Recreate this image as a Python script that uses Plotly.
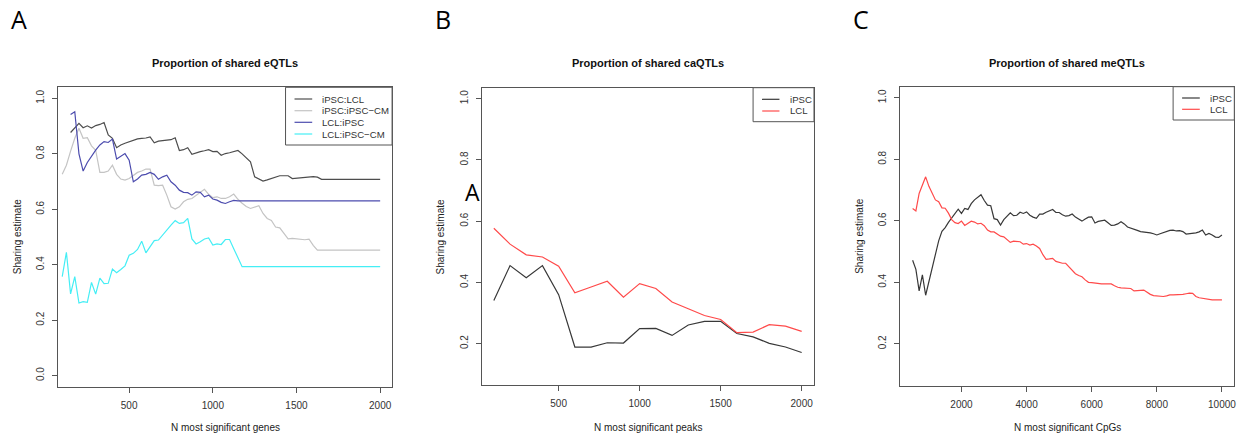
import plotly.graph_objects as go

W, H = 1248, 436
FONT = "Liberation Sans, Arial, Helvetica, sans-serif"
LETTER_FONT = "Open Sans, Noto Sans, sans-serif"

# ---------------- Panel A : eQTLs ----------------
GENES_N = [100, 125, 150, 175, 200, 225, 250, 275, 300, 325,
           350, 375, 400, 425, 450, 475, 500, 525, 550, 575,
           600, 625, 650, 675, 700, 725, 750, 775, 800, 825,
           850, 875, 900, 925, 950, 975, 1000, 1025, 1050, 1075,
           1100, 1125, 1150, 1175, 1200, 1225, 1250, 1275, 1300, 1325,
           1350, 1375, 1400, 1425, 1450, 1475, 1500, 1525, 1550, 1575,
           1600, 1625, 1650, 1675, 1700, 1725, 1750, 1775, 1800, 1825,
           1850, 1875, 1900, 1925, 1950, 1975, 2000]

IPSC_LCL = [None, None, .877, .895, .910, .894, .901, .893, .902, .906,
            .913, .868, .856, .822, .832, .838, .844, .848, .854, .856,
            .857, .861, .840, .846, .847, .848, .851, .858, .812, .815,
            .822, .798, .804, .808, .811, .815, .808, .809, .795, .801,
            .804, .808, .812, .800, .785, .771, .717, .710, .702, .706,
            .711, .716, .721, .721, .721, .711, .712, .715, .716, .717,
            .718, .716, .708, .708, .708, .708, .708, .708, .708, .708,
            .708, .708, .708, .708, .708, .708, .708]

IPSC_IPSCCM = [.726, .759, .810, .856, .892, .856, .858, .829, .813, .733,
               .733, .738, .759, .726, .709, .705, .711, .723, .733, .738,
               .745, .745, .687, .685, .687, .651, .609, .601, .609, .627,
               .636, .639, .651, .661, .672, .654, .642, .645, .639, .639,
               .645, .655, .636, .622, .610, .603, .608, .613, .585, .567,
               .560, .536, .533, .512, .493, .495, .494, .491, .490, .492,
               .470, .453, .453, .453, .453, .453, .453, .453, .453, .453,
               .453, .453, .453, .453, .453, .453, .453]

LCL_IPSC = [None, None, .942, .952, .800, .738, .769, .793, .813, .832,
            .844, .841, .853, .781, .792, .801, .777, .699, .709, .723,
            .726, .733, .726, .708, .717, .723, .699, .687, .669, .661,
            .660, .651, .663, .661, .645, .651, .637, .633, .625, .621,
            .627, .632, .630, .630, .630, .630, .630, .630, .630, .630,
            .630, .630, .630, .630, .630, .630, .630, .630, .630, .630,
            .630, .630, .630, .630, .630, .630, .630, .630, .630, .630,
            .630, .630, .630, .630, .630, .630, .630]

LCL_IPSCCM = [.357, .445, .295, .357, .262, .267, .264, .336, .294, .352,
              .332, .333, .384, .371, .383, .396, .434, .441, .455, .485,
              .443, .465, .487, .489, .507, .529, .543, .559, .549, .552,
              .567, .493, .475, .483, .493, .497, .471, .475, .473, .491,
              .491, .458, .426, .393, .393, .393, .393, .393, .393, .393,
              .393, .393, .393, .393, .393, .393, .393, .393, .393, .393,
              .393, .393, .393, .393, .393, .393, .393, .393, .393, .393,
              .393, .393, .393, .393, .393, .393, .393]

A_NAMES = ["iPSC:LCL", "iPSC:iPSC\u2212CM", "LCL:iPSC", "LCL:iPSC\u2212CM"]
A_COLORS = ["#4d4d4d", "#c4c4c4", "#4c4cae", "#45eef5"]

# ---------------- Panel B : caQTLs ----------------
PEAKS_N = [100, 200, 300, 400, 500, 600, 700, 800, 900, 1000,
           1100, 1200, 1300, 1400, 1500, 1600, 1700, 1800, 1900, 2000]
IPSC_B = [.341, .455, .415, .455, .360, .189, .189, .203, .202, .249,
          .250, .227, .261, .273, .273, .233, .222, .201, .189, .171]
LCL_B = [.577, .525, .490, .483, .453, .366, .385, .404, .352, .396,
         .380, .336, .314, .292, .279, .236, .238, .262, .257, .240]

# ---------------- Panel C : meQTLs ----------------
CPGS_N = [500, 600, 700, 800, 900, 1000, 1100, 1200, 1300, 1400,
          1500, 1600, 1700, 1800, 1900, 2000, 2100, 2200, 2300, 2400,
          2500, 2600, 2700, 2800, 2900, 3000, 3100, 3200, 3300, 3400,
          3500, 3600, 3700, 3800, 3900, 4000, 4100, 4200, 4300, 4400,
          4500, 4600, 4700, 4800, 4900, 5000, 5100, 5200, 5300, 5400,
          5500, 5600, 5700, 5800, 5900, 6000, 6100, 6200, 6300, 6400,
          6500, 6600, 6700, 6800, 6900, 7000, 7100, 7200, 7300, 7400,
          7500, 7600, 7700, 7800, 7900, 8000, 8100, 8200, 8300, 8400,
          8500, 8600, 8700, 8800, 8900, 9000, 9100, 9200, 9300, 9400,
          9500, 9600, 9700, 9800, 9900, 10000]
IPSC_C = [.472, .442, .372, .424, .358, .402, .452, .495, .535, .566,
          .578, .595, .610, .625, .638, .624, .640, .637, .656, .668,
          .678, .685, .666, .651, .649, .607, .604, .586, .604, .616,
          .626, .617, .618, .628, .624, .629, .618, .612, .608, .622,
          .622, .628, .633, .637, .627, .627, .620, .615, .617, .622,
          .612, .605, .599, .606, .612, .613, .593, .598, .601, .602,
          .594, .585, .586, .590, .597, .590, .580, .577, .574, .569,
          .565, .564, .563, .561, .558, .554, .558, .562, .567, .569,
          .570, .567, .568, .565, .557, .558, .559, .561, .564, .570,
          .554, .559, .554, .547, .546, .554]
LCL_C = [.640, .632, .689, .716, .743, .712, .688, .668, .662, .642,
         .641, .625, .604, .594, .591, .599, .585, .592, .599, .596,
         .590, .592, .584, .570, .564, .564, .558, .550, .548, .540,
         .530, .534, .534, .532, .524, .526, .521, .524, .518, .510,
         .490, .475, .476, .478, .468, .464, .462, .462, .450, .440,
         .428, .422, .418, .408, .400, .399, .397, .395, .395, .395,
         .395, .395, .389, .384, .382, .381, .381, .380, .372, .372,
         .374, .375, .368, .361, .357, .356, .355, .354, .356, .359,
         .359, .359, .359, .361, .363, .365, .364, .354, .350, .348,
         .347, .344, .343, .343, .343, .343]

BC_NAMES = ["iPSC", "LCL"]
BC_COLORS = ["#383838", "#ff4a4a"]

TITLES = ["Proportion of shared eQTLs", "Proportion of shared caQTLs",
          "Proportion of shared meQTLs"]
XLABELS = ["N most significant genes", "N most significant peaks",
           "N most significant CpGs"]
YLABEL = "Sharing estimate"
LETTERS = ["A", "B", "C"]

X_TICKS = [[500, 1000, 1500, 2000], [500, 1000, 1500, 2000],
           [2000, 4000, 6000, 8000, 10000]]
Y_TICKS = [[0.0, 0.2, 0.4, 0.6, 0.8, 1.0], [0.2, 0.4, 0.6, 0.8, 1.0],
           [0.2, 0.4, 0.6, 0.8, 1.0]]

# ---------------- layout geometry (pixels) ----------------
BOX = [(58.3, 393.0, 87.3, 386.7), (482.3, 815.3, 87.7, 385.3),
       (901.7, 1236.3, 86.7, 385.7)]
XRANGES = [[76, 2073], [24, 2076], [120, 10380]]
YRANGES = [[-0.04, 1.04], [0.064, 1.036], [0.064, 1.036]]


def px(x):
    return x / W


def py(y):
    return 1 - y / H


fig = go.Figure()

series = [
    (GENES_N, [IPSC_LCL, IPSC_IPSCCM, LCL_IPSC, LCL_IPSCCM], A_NAMES, A_COLORS),
    (PEAKS_N, [IPSC_B, LCL_B], BC_NAMES, BC_COLORS),
    (CPGS_N, [IPSC_C, LCL_C], BC_NAMES, BC_COLORS),
]

for i, (xs, ys_list, names, colors) in enumerate(series):
    sfx = "" if i == 0 else str(i + 1)
    for ys, nm, col in zip(ys_list, names, colors):
        fig.add_trace(go.Scatter(x=xs, y=ys, mode="lines", name=nm,
                                 line=dict(color=col, width=1.2),
                                 xaxis="x" + sfx, yaxis="y" + sfx,
                                 showlegend=False))

axis_common = dict(showgrid=False, zeroline=False, showline=True, mirror=True,
                   linecolor="#555555", linewidth=1, ticks="outside",
                   ticklen=5, tickcolor="#555555", tickwidth=1,
                   tickfont=dict(family=FONT, size=10, color="#333333"))

layout = dict(width=W, height=H, margin=dict(l=0, r=0, t=0, b=0),
              paper_bgcolor="white", plot_bgcolor="white",
              font=dict(family=FONT, color="#222222"))

annotations = []
shapes = []

for i in range(3):
    sfx = "" if i == 0 else str(i + 1)
    x0, x1, y0, y1 = BOX[i]
    layout["xaxis" + sfx] = dict(axis_common, domain=[px(x0), px(x1)],
                                 range=XRANGES[i], tickvals=X_TICKS[i],
                                 ticktext=[str(v) for v in X_TICKS[i]],
                                 anchor="y" + sfx, ticklabelstandoff=4)
    layout["yaxis" + sfx] = dict(axis_common, domain=[py(y1), py(y0)],
                                 range=YRANGES[i], tickvals=Y_TICKS[i],
                                 ticktext=["%.1f" % v for v in Y_TICKS[i]],
                                 tickangle=-90, anchor="x" + sfx,
                                 ticklabelstandoff=4)
    cx = (x0 + x1) / 2
    annotations.append(dict(text="<b>%s</b>" % TITLES[i], x=px(cx), y=py(63),
                            xref="paper", yref="paper", showarrow=False,
                            xanchor="center", yanchor="middle",
                            font=dict(family=FONT, size=11, color="#111111")))
    annotations.append(dict(text=XLABELS[i], x=px(cx), y=py(427.5),
                            xref="paper", yref="paper", showarrow=False,
                            xanchor="center", yanchor="middle",
                            font=dict(family=FONT, size=10, color="#222222")))
    ylab_x = [17.3, 441.7, 861.0][i]
    annotations.append(dict(text=YLABEL, x=px(ylab_x), y=py((y0 + y1) / 2),
                            xref="paper", yref="paper", showarrow=False,
                            textangle=-90, xanchor="center", yanchor="middle",
                            font=dict(family=FONT, size=10, color="#222222")))
    lx, ly = [(19.5, 19.5), (443.5, 19.5), (862.5, 19.5)][i]
    annotations.append(dict(text=LETTERS[i], x=px(lx), y=py(ly),
                            xref="paper", yref="paper", showarrow=False,
                            xanchor="center", yanchor="middle",
                            font=dict(family=LETTER_FONT, size=25, color="black")))

# stray panel letter overlapping panel B
annotations.append(dict(text="A", x=px(472.8), y=py(191.5), xref="paper",
                        yref="paper", showarrow=False, xanchor="center",
                        yanchor="middle",
                        font=dict(family=LETTER_FONT, size=23, color="black")))

# ---------------- legends ----------------
LEGENDS = [
    dict(box=(286.0, 392.7, 87.3, 145.0), line=(295.0, 312.7), tx=321.0,
         rows=[99.0, 110.7, 122.3, 134.0], names=A_NAMES, colors=A_COLORS),
    dict(box=(754.3, 815.3, 87.7, 121.7), line=(763.3, 780.7), tx=789.3,
         rows=[99.3, 111.0], names=BC_NAMES, colors=BC_COLORS),
    dict(box=(1175.0, 1236.3, 86.7, 120.0), line=(1184.0, 1201.7), tx=1210.0,
         rows=[98.0, 109.3], names=BC_NAMES, colors=BC_COLORS),
]
for lg in LEGENDS:
    bx0, bx1, by0, by1 = lg["box"]
    shapes.append(dict(type="rect", xref="paper", yref="paper",
                       x0=px(bx0), x1=px(bx1), y0=py(by1), y1=py(by0),
                       line=dict(color="#555555", width=1),
                       fillcolor="white", layer="above"))
    for ry, nm, col in zip(lg["rows"], lg["names"], lg["colors"]):
        shapes.append(dict(type="line", xref="paper", yref="paper",
                           x0=px(lg["line"][0]), x1=px(lg["line"][1]),
                           y0=py(ry), y1=py(ry),
                           line=dict(color=col, width=1.2), layer="above"))
        annotations.append(dict(text=nm, x=px(lg["tx"]), y=py(ry),
                                xref="paper", yref="paper", showarrow=False,
                                xanchor="left", yanchor="middle",
                                font=dict(family=FONT, size=9.6, color="#333333")))

layout["annotations"] = annotations
layout["shapes"] = shapes
fig.update_layout(**layout)
fig.write_html("out.html",
               config={"displayModeBar": False},
               post_script="document.body.style.margin='0px';"
                           "document.body.style.padding='0px';")
